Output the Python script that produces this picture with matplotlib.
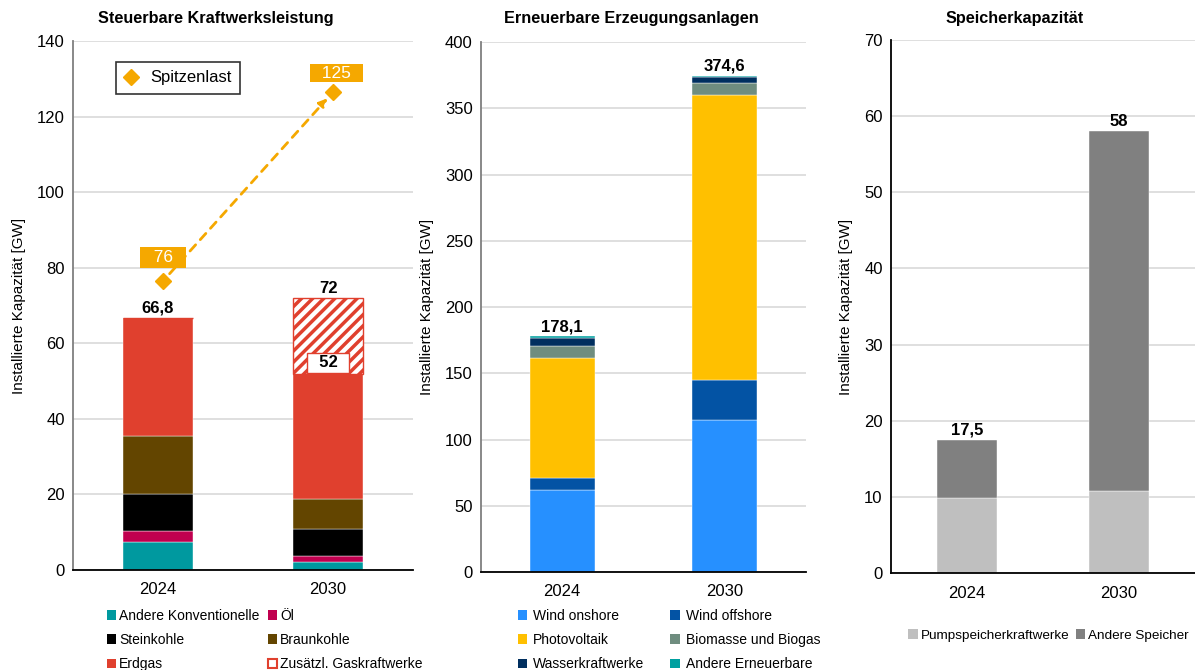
import numpy as np
import matplotlib
matplotlib.use("Agg")
import matplotlib.pyplot as plt
from matplotlib.patches import Patch

plt.rcParams['font.family'] = ['Liberation Sans', 'DejaVu Sans']
plt.rcParams['hatch.linewidth'] = 2.5

# Daten
years = ["2024", "2030"]

# Steuerbare Kraftwerksleistung [GW]
andere_konv = [7.4, 2.1]
oel = [3.0, 1.6]
steinkohle = [9.7, 7.1]
braunkohle = [15.4, 8.0]
erdgas = [31.3, 33.2]
zus_gas = [0.0, 20.0]
steuerbar_labels = ["66,8", "72"]
peak = [76.5, 126.5]
peak_labels = ["76", "125"]

# Erneuerbare [GW]
wind_on = [62.0, 115.0]
wind_off = [9.0, 30.0]
pv = [90.3, 215.0]
biomasse = [9.5, 9.4]
wasser = [6.0, 4.5]
andere_ee = [1.3, 0.7]
ee_labels = ["178,1", "374,6"]

# Speicher [GW]
pumpsp = [9.9, 10.8]
andere_sp = [7.6, 47.2]
sp_labels = ["17,5", "58"]

orange = "#F5A800"
x = np.arange(len(years))

fig = plt.figure(figsize=(11.95, 6.7), dpi=100)
W, H = 1195, 670

def make_ax(l, b, w, h):
    return fig.add_axes([l / W, (H - b) / H, w / W, h / H])

def style(ax, ymax, step, spine_col):
    ax.set_xlim(-0.5, 1.5)
    ax.set_ylim(0, ymax)
    ax.set_yticks(np.arange(0, ymax + 1, step))
    ax.set_xticks(x)
    ax.set_xticklabels(years)
    ax.tick_params(length=0, labelsize=12, pad=6)
    ax.tick_params(axis='x', pad=9)
    ax.yaxis.grid(True, color="#D9D9D9", lw=1.2)
    ax.set_axisbelow(True)
    for s in ["top", "right"]:
        ax.spines[s].set_visible(False)
    ax.spines["left"].set_color(spine_col)
    ax.spines["bottom"].set_color("black")
    ax.spines["left"].set_linewidth(1.3)
    ax.spines["bottom"].set_linewidth(1.3)
    ax.set_ylabel("Installierte Kapazität [GW]", fontsize=11, labelpad=8)

def stack(ax, series, colors, width):
    bottom = np.zeros(len(x))
    for vals, c in zip(series, colors):
        ax.bar(x, vals, width, bottom=bottom, color=c, edgecolor="white", lw=0.3)
        bottom = bottom + np.array(vals)
    return bottom

# ---------------- links
ax1 = make_ax(73, 570, 340, 529)
style(ax1, 140, 20, "#7F7F7F")
cols1 = ["#00999F", "#C0004F", "#000000", "#634500", "#E0402E"]
tot1 = stack(ax1, [andere_konv, oel, steinkohle, braunkohle, erdgas], cols1, 0.41)
ax1.bar(x, zus_gas, 0.41, bottom=tot1, color="white", edgecolor="#E0402E",
        hatch="///", lw=1)
tot1b = tot1 + np.array(zus_gas)
for i in range(len(x)):
    ax1.text(x[i], tot1b[i] + 0.6, steuerbar_labels[i], ha="center", va="bottom",
             fontsize=12, fontweight="bold")
ax1.text(x[1], tot1[1] + 0.8, "  52  ", ha="center", va="bottom", fontsize=12, fontweight="bold",
         bbox=dict(boxstyle="square,pad=0.15", fc="white", ec="#E0402E", lw=1))

px = x + 0.03
ax1.plot(px, peak, ls="none", marker="D", color=orange, ms=8, label="Spitzenlast")
ax1.annotate("", xy=(px[1], peak[1]), xytext=(px[0], peak[0]),
             arrowprops=dict(arrowstyle="-|>", ls=(0, (3, 2.5)), color=orange, lw=2,
                             shrinkA=7, shrinkB=6, mutation_scale=12))
ax1.text(px[0], peak[0] + 6.2, f"  {peak_labels[0]}  ", ha="center", va="center",
         color="white", fontsize=12.5,
         bbox=dict(boxstyle="square,pad=0.2", fc=orange, ec="none"))
ax1.text(px[1] + 0.02, peak[1] + 5.0, f"  {peak_labels[1]}  ", ha="center", va="center",
         color="white", fontsize=12.5,
         bbox=dict(boxstyle="square,pad=0.1", fc=orange, ec="none"))
leg = ax1.legend(loc="upper left", bbox_to_anchor=(0.125, 0.96), fontsize=12, frameon=True,
                 fancybox=False, edgecolor="black", handlelength=0.9, handletextpad=0.7,
                 borderpad=0.5, borderaxespad=0)
leg.get_frame().set_linewidth(1.2)

names1 = ["Andere Konventionelle", "Öl", "Steinkohle", "Braunkohle", "Erdgas",
          "Zusätzl. Gaskraftwerke"]
patches1 = [Patch(facecolor=c) for c in cols1] + \
           [Patch(facecolor="white", edgecolor="#E0402E", lw=1.5)]
order = [0, 2, 4, 1, 3, 5]
fig.legend([patches1[i] for i in order], [names1[i] for i in order],
           loc="upper left", bbox_to_anchor=(101 / W, 1 - 603 / H), ncol=2,
           frameon=False, fontsize=10, handlelength=0.7, handleheight=0.7,
           handletextpad=0.2, columnspacing=0.6, labelspacing=0.75, borderaxespad=0)

# ---------------- mitte
ax2 = make_ax(481, 572, 325, 530)
style(ax2, 400, 50, "#7F7F7F")
cols2 = ["#2690FF", "#0353A4", "#FFC000", "#6F8D7F", "#002F5F", "#00A0A0"]
tot2 = stack(ax2, [wind_on, wind_off, pv, biomasse, wasser, andere_ee], cols2, 0.4)
for i in range(len(x)):
    ax2.text(x[i], tot2[i] + 1.5, ee_labels[i], ha="center", va="bottom",
             fontsize=12, fontweight="bold")
names2 = ["Wind onshore", "Wind offshore", "Photovoltaik", "Biomasse und Biogas",
          "Wasserkraftwerke", "Andere Erneuerbare"]
patches2 = [Patch(facecolor=c) for c in cols2]
fig.legend([patches2[i] for i in order], [names2[i] for i in order],
           loc="upper left", bbox_to_anchor=(512 / W, 1 - 603 / H), ncol=2,
           frameon=False, fontsize=10, handlelength=0.7, handleheight=0.7,
           handletextpad=0.4, columnspacing=1.9, labelspacing=0.75, borderaxespad=0)

# ---------------- rechts
ax3 = make_ax(891, 573, 304, 533)
style(ax3, 70, 10, "black")
cols3 = ["#BFBFBF", "#808080"]
tot3 = stack(ax3, [pumpsp, andere_sp], cols3, 0.4)
for i in range(len(x)):
    ax3.text(x[i], tot3[i] + 0.3, sp_labels[i], ha="center", va="bottom",
             fontsize=12, fontweight="bold")
fig.legend([Patch(facecolor=c) for c in cols3], ["Pumpspeicherkraftwerke", "Andere Speicher"],
           loc="upper left", bbox_to_anchor=(903 / W, 1 - 624 / H), ncol=2,
           frameon=False, fontsize=9.7, handlelength=0.7, handleheight=0.7,
           handletextpad=0.2, columnspacing=0.5, borderaxespad=0)

# Titel
fig.text(216 / W, 1 - 19 / H, "Steuerbare Kraftwerksleistung", ha="center", va="center",
         fontsize=11.7, fontweight="bold")
fig.text(631 / W, 1 - 19 / H, "Erneuerbare Erzeugungsanlagen", ha="center", va="center",
         fontsize=11.7, fontweight="bold")
fig.text(1015 / W, 1 - 19 / H, "Speicherkapazität", ha="center", va="center",
         fontsize=11.7, fontweight="bold")

fig.savefig("out.png", dpi=100)
